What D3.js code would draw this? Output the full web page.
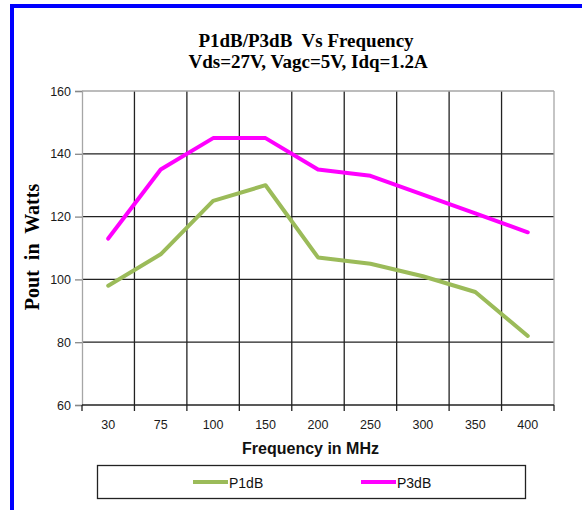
<!DOCTYPE html>
<html>
<head>
<meta charset="utf-8">
<script src="https://cdn.jsdelivr.net/npm/d3@7"></script>
<style>
  html, body { margin: 0; padding: 0; background: #ffffff; }
  svg { display: block; }
  text { white-space: pre; }
</style>
</head>
<body>
<svg id="chart" width="582" height="510"></svg>
<script>
const categories = ["30", "75", "100", "150", "200", "250", "300", "350", "400"];
const p1dbValues = [98, 108, 125, 130, 107, 105, 101, 96, 82];
const p3dbValues = [113, 135, 145, 145, 135, 133, 127, 121, 115];
const yTicks = [60, 80, 100, 120, 140, 160];
const seriesNames = ["P1dB", "P3dB"];
const seriesColors = ["#9BBB59", "#FF00FF"];
const titleLines = ["P1dB/P3dB  Vs Frequency", " Vds=27V, Vagc=5V, Idq=1.2A"];

const svg = d3.select("#chart");
const pLeft = 82, pRight = 554, pTop = 91, pBottom = 405;

// blue frame
svg.append("rect").attr("x", 12).attr("y", 6).attr("width", 700).attr("height", 700)
  .attr("fill", "none").attr("stroke", "#0000FF").attr("stroke-width", 4);

const x = d3.scaleBand().domain(categories).range([pLeft, pRight]).padding(0);
const y = d3.scaleLinear().domain([60, 160]).range([pBottom, pTop]);

// vertical gridlines at category boundaries
const bounds = categories.slice(1).map(c => x(c));
svg.append("g").selectAll("line").data(bounds).join("line")
  .attr("x1", d => d).attr("x2", d => d).attr("y1", pTop).attr("y2", pBottom)
  .attr("stroke", "#222").attr("stroke-width", 1.3);

// horizontal gridlines
svg.append("g").selectAll("line").data(yTicks.filter(v => v > 60 && v < 160)).join("line")
  .attr("x1", pLeft).attr("x2", pRight).attr("y1", d => y(d)).attr("y2", d => y(d))
  .attr("stroke", "#222").attr("stroke-width", 1.3);

// plot border top/right
svg.append("line").attr("x1", pLeft).attr("x2", pRight).attr("y1", pTop).attr("y2", pTop)
  .attr("stroke", "#a6a6a6").attr("stroke-width", 1.3);
svg.append("line").attr("x1", pRight).attr("x2", pRight).attr("y1", pTop).attr("y2", pBottom)
  .attr("stroke", "#a6a6a6").attr("stroke-width", 1.3);

// y axis
const yAxis = d3.axisLeft(y).tickValues(yTicks).tickSize(7).tickPadding(4);
const gy = svg.append("g").attr("transform", `translate(${pLeft},0)`).call(yAxis);
gy.select(".domain").attr("stroke", "#a6a6a6").attr("stroke-width", 1.3);
gy.selectAll(".tick line").attr("stroke", "#888").attr("stroke-width", 1.3);
gy.selectAll(".tick text").attr("font-family", "Liberation Sans, Arial, sans-serif")
  .attr("font-size", 12.5).attr("fill", "#1a1a1a");

// x axis
const xEdge = d3.scaleLinear().domain([0, categories.length]).range([pLeft, pRight]);
const gx = svg.append("g").attr("transform", `translate(0,${pBottom})`);
gx.append("line").attr("x1", pLeft).attr("x2", pRight).attr("stroke", "#222").attr("stroke-width", 1.3);
gx.selectAll("line.tk").data(d3.range(categories.length + 1)).join("line").attr("class", "tk")
  .attr("x1", d => xEdge(d)).attr("x2", d => xEdge(d)).attr("y1", 0).attr("y2", 6)
  .attr("stroke", "#222").attr("stroke-width", 1.3);
gx.selectAll("text").data(categories).join("text")
  .attr("x", d => x(d) + x.bandwidth() / 2).attr("y", 24)
  .attr("text-anchor", "middle")
  .attr("font-family", "Liberation Sans, Arial, sans-serif").attr("font-size", 12.5).attr("fill", "#1a1a1a")
  .text(d => d);

// lines
const line = d3.line().x((d, i) => x(categories[i]) + x.bandwidth() / 2).y(d => y(d));
[p1dbValues, p3dbValues].forEach((vals, k) => {
  svg.append("path").datum(vals).attr("d", line)
    .attr("fill", "none").attr("stroke", seriesColors[k]).attr("stroke-width", 4)
    .attr("stroke-linejoin", "round").attr("stroke-linecap", "round");
});

// title
svg.append("g").selectAll("text").data(titleLines).join("text")
  .attr("x", 306).attr("y", (d, i) => 47 + i * 21)
  .attr("text-anchor", "middle")
  .attr("font-family", "Liberation Serif, Times New Roman, serif").attr("font-weight", "bold")
  .attr("font-size", 19).attr("fill", "#000")
  .text(d => d);

// y title
svg.append("text").attr("transform", "translate(39,247) rotate(-90)")
  .attr("text-anchor", "middle")
  .attr("font-family", "Liberation Serif, Times New Roman, serif").attr("font-weight", "bold")
  .attr("font-size", 20).attr("fill", "#000")
  .text("Pout  in  Watts");

// x title
svg.append("text").attr("x", 310.5).attr("y", 454).attr("text-anchor", "middle")
  .attr("font-family", "Liberation Sans, Arial, sans-serif").attr("font-weight", "bold")
  .attr("font-size", 16).attr("fill", "#111")
  .text("Frequency in MHz");

// legend
svg.append("rect").attr("x", 97.5).attr("y", 465.5).attr("width", 428).attr("height", 33)
  .attr("fill", "#fff").attr("stroke", "#222").attr("stroke-width", 1.3);
const legX = [193, 361];
seriesNames.forEach((name, k) => {
  svg.append("line").attr("x1", legX[k]).attr("x2", legX[k] + 35).attr("y1", 482).attr("y2", 482)
    .attr("stroke", seriesColors[k]).attr("stroke-width", 4);
  svg.append("text").attr("x", legX[k] + 36).attr("y", 487.5)
    .attr("font-family", "Liberation Sans, Arial, sans-serif").attr("font-size", 14).attr("fill", "#111")
    .text(name);
});
</script>
</body>
</html>
